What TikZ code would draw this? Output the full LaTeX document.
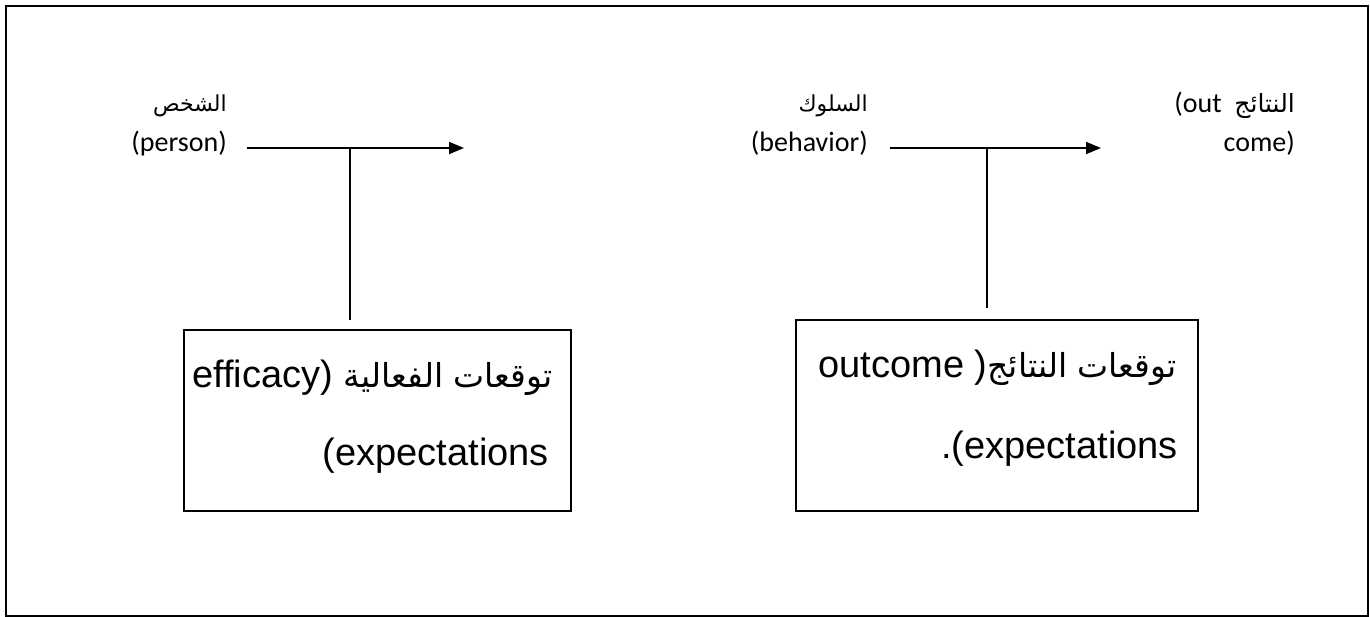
\documentclass[tikz,border=0pt]{standalone}
\usepackage{fontspec}
\usetikzlibrary{arrows.meta}
\setmainfont{Liberation Sans}
\newfontfamily\calfont{Carlito}
\newfontfamily\arabicfont[Script=Arabic]{DejaVu Sans}
\TeXXeTstate=1
\tikzset{
  frameline/.style={line width=2.5pt, draw=black},
  boxnode/.style={draw=black, line width=1.6pt, rectangle, inner sep=0pt, anchor=north west},
  conn/.style={line width=1.8pt, draw=black},
  arr/.style={conn, -{Triangle[length=15pt,width=12pt]}},
  smalllbl/.style={anchor=base east, inner sep=0pt, font=\calfont\fontsize{28}{34}\selectfont},
  smallar/.style={anchor=base east, inner sep=0pt, font=\arabicfont\fontsize{22}{28}\selectfont},
  boxtxt/.style={anchor=base east, inner sep=0pt, font=\fontsize{38}{78}\selectfont},
}
\begin{document}
\begin{tikzpicture}[x=1pt,y=-1pt]
\useasboundingbox (0,0) rectangle (1370,616);
\node[frameline, draw, rectangle, inner sep=0pt, anchor=north west, minimum width=1361.8pt, minimum height=609.8pt] (frame) at (4.7,4.7) {};

% left group
\node[smallar] (personar) at (227,111) {\beginR الشخص\endR};
\node[smalllbl] (person) at (227,151) {(person)};
\coordinate (a1s) at (247,148);
\coordinate (a1e) at (464,148);
\coordinate (j1) at (350,148);
\draw[arr] (a1s) -- (a1e);
\node[boxnode, minimum width=387pt, minimum height=181pt] (box1) at (183,329) {};
\draw[conn] (j1) -- ([yshift=9pt]box1.north -| j1);
\node[boxtxt] (b1l1) at (553,387) {efficacy) {\arabicfont\fontsize{33}{78}\selectfont\beginR توقعات الفعالية\endR}};
\node[boxtxt] (b1l2) at (549,465) {(expectations};

% right group
\node[smallar] (behar) at (868,111) {\beginR السلوك\endR};
\node[smalllbl] (behavior) at (868,151) {(behavior)};
\coordinate (a2s) at (890,148);
\coordinate (a2e) at (1101,148);
\coordinate (j2) at (987,148);
\draw[arr] (a2s) -- (a2e);
\node[boxnode, minimum width=402pt, minimum height=191pt] (box2) at (795,319) {};
\draw[conn] (j2) -- ([yshift=11pt]box2.north -| j2);
\node[boxtxt] (b2l1) at (1177,377) {outcome ){\arabicfont\fontsize{33}{78}\selectfont\beginR توقعات النتائج\endR}};
\node[boxtxt] (b2l2) at (1178,458) {.(expectations};

% outcome label
\node[smalllbl] (outc1) at (1295,112) {(out\ \ {\arabicfont\fontsize{25}{30}\selectfont\beginR النتائج\endR}};
\node[smalllbl] (outc2) at (1295,151) {come)};
\end{tikzpicture}
\end{document}
